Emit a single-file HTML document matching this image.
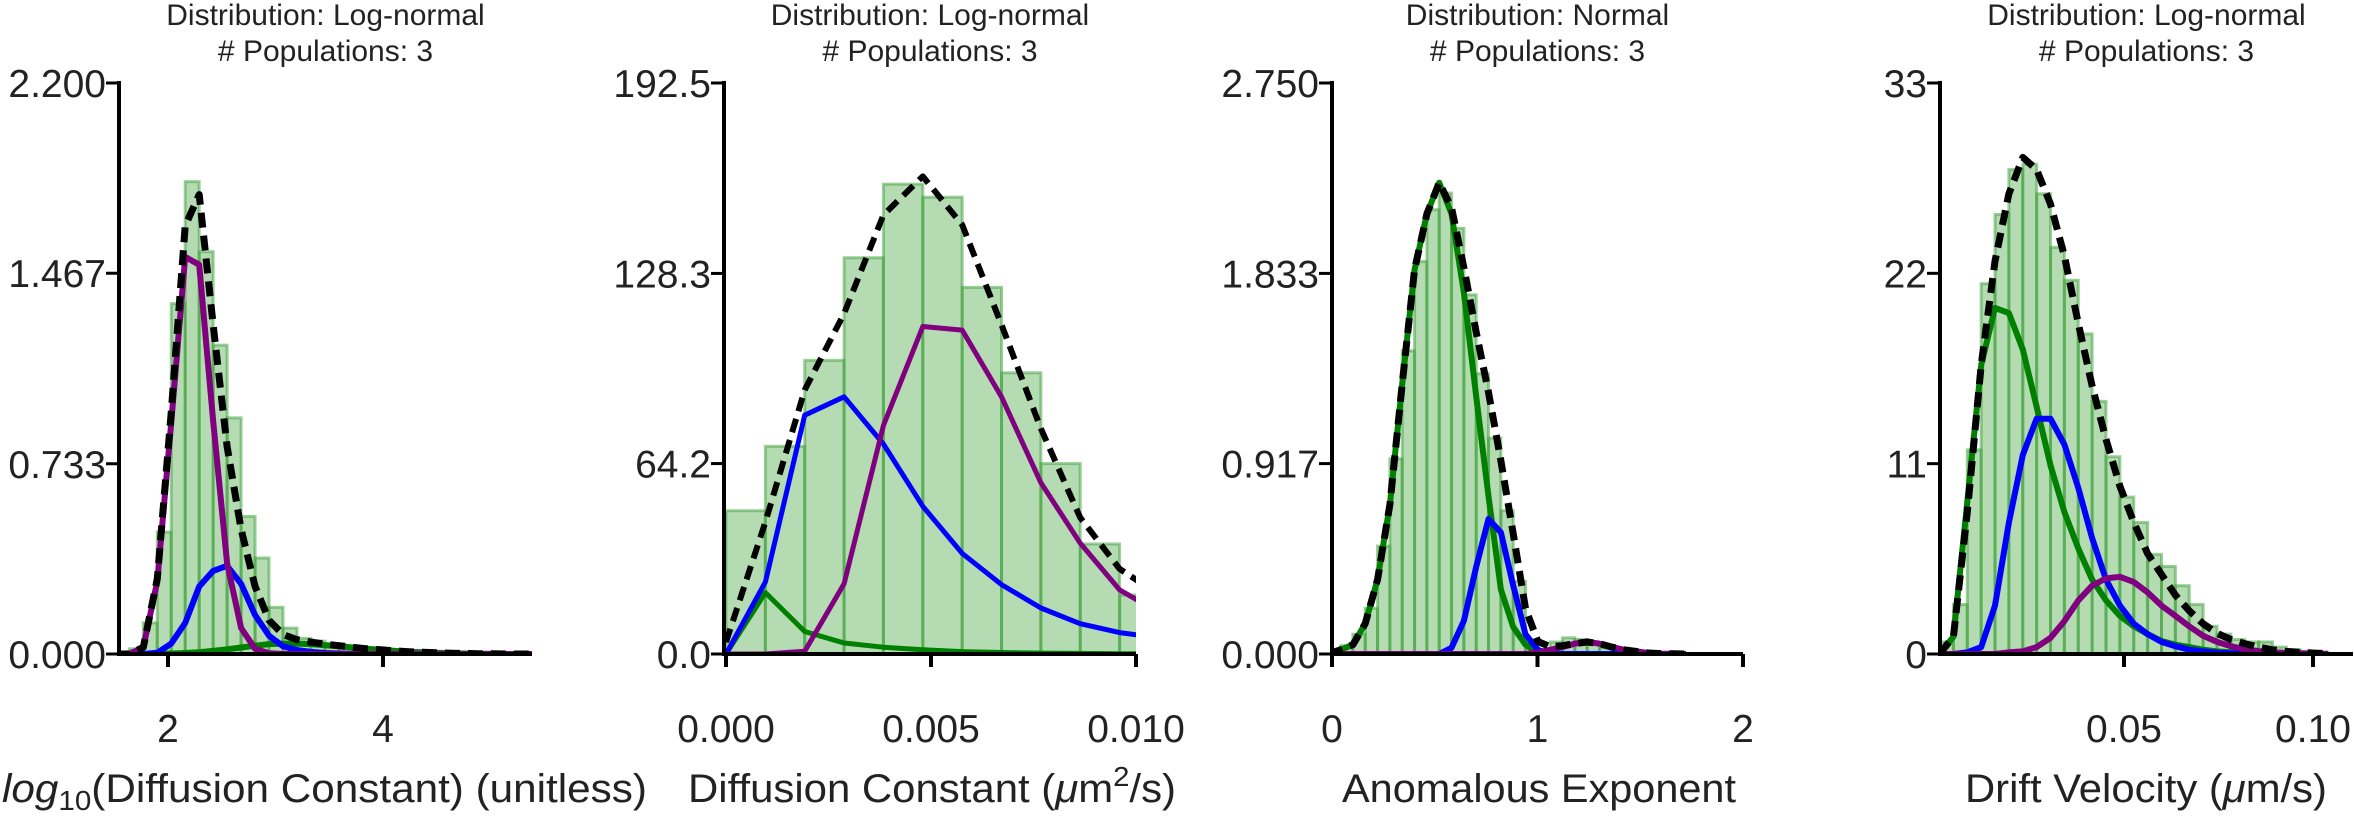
<!DOCTYPE html>
<html><head><meta charset="utf-8">
<style>
html,body{margin:0;padding:0;background:#fff;}
svg{display:block;font-family:"Liberation Sans",Arial,sans-serif;}
</style></head>
<body>
<svg id="chart" width="2354" height="818" viewBox="0 0 2354 818" xmlns="http://www.w3.org/2000/svg"></svg>
<script>
// ---------- Panel 1: log10 Diffusion Constant ----------
const p1BinStart = 1.64, p1BinWidth = 0.13;
const p1Bars = [0.02,0.12,0.47,1.35,1.82,1.55,1.19,0.91,0.53,0.37,0.18,0.10,0.06,0.05,0.04,0.03,0.025,0.02,0.015,0.012,0.01,0.008,0.006,0.005,0.004,0.003,0.002,0.002,0.001];
const p1CurveStart = 1.51, p1CurveStep = 0.13;
const p1Total  = [0,0,0.026,0.29,0.93,1.65,1.77,1.27,0.80,0.48,0.26,0.13,0.075,0.055,0.046,0.038,0.032,0.026,0.02,0.016,0.012,0.009,0.007,0.005,0.003,0.002,0.001,0.001,0,0,0];
const p1Purple = [0,0,0.026,0.28,0.89,1.53,1.50,0.90,0.35,0.10,0.02,0.003,0,0,0,0,0,0,0,0,0,0,0,0,0,0,0,0,0,0,0];
const p1Blue   = [0,0,0,0.005,0.04,0.12,0.26,0.32,0.34,0.27,0.15,0.07,0.03,0.015,0.008,0.004,0.002,0.001,0,0,0,0,0,0,0,0,0,0,0,0,0];
const p1Green  = [0,0,0,0.001,0.002,0.004,0.007,0.012,0.018,0.025,0.032,0.038,0.04,0.04,0.038,0.034,0.03,0.025,0.02,0.016,0.012,0.009,0.007,0.005,0.003,0.002,0.001,0.001,0,0,0];
const p1YTicks = ["0.000","0.733","1.467","2.200"];
const p1YTickVals = [0,0.733,1.467,2.2];
const p1XTicks = ["2","4"];
const p1XTickVals = [2,4];

// ---------- Panel 2: Diffusion Constant ----------
const p2BinStart = 0, p2BinWidth = 0.00096;
const p2Bars = [48.3,70,99,133.6,158.4,154,123.6,94.8,64.2,37.1,19.9];
const p2CurveStart = 0, p2CurveStep = 0.00096;
const p2Total  = [4,44.5,89,114.8,148,161,144.7,111,76,46,28.7,20];
const p2Blue   = [0,24.3,80.5,86.7,70.8,49.8,33.9,23.4,15.5,10.2,7.2,5.5];
const p2Purple = [0,0,0.9,23.7,77,110.4,109.2,86.7,57.7,37.4,21.6,14];
const p2Green  = [0,20.7,7.6,3.7,2.3,1.4,0.8,0.5,0.3,0.2,0.1,0.1];
const p2YTicks = ["0.0","64.2","128.3","192.5"];
const p2YTickVals = [0,64.2,128.3,192.5];
const p2XTicks = ["0.000","0.005","0.010"];
const p2XTickVals = [0,0.005,0.01];

// ---------- Panel 3: Anomalous Exponent ----------
const p3BinStart = -0.0183, p3BinWidth = 0.06;
const p3Bars = [0.02,0.04,0.095,0.22,0.52,0.94,1.46,1.89,2.14,2.22,2.05,1.73,1.35,1.04,0.69,0.35,0.058,0.02,0.058,0.078,0.07,0.05,0.03,0.02,0.012,0.008,0.005,0.003,0.002];
const p3CurveStart = -0.0183, p3CurveStep = 0.06;
const p3Total  = [0,0.02,0.045,0.146,0.36,0.72,1.3,1.85,2.12,2.27,2.15,1.86,1.55,1.26,0.93,0.58,0.22,0.06,0.035,0.04,0.05,0.058,0.05,0.033,0.02,0.012,0.005,0.002,0.001,0];
const p3Green  = [0,0.02,0.045,0.146,0.36,0.72,1.3,1.85,2.12,2.27,2.12,1.74,1.24,0.76,0.31,0.13,0.045,0.007,0,0,0,0,0,0,0,0,0,0,0,0];
const p3Blue   = [0,0,0,0,0,0,0,0,0,0,0.03,0.16,0.42,0.65,0.585,0.33,0.095,0.02,0,0,0,0,0,0,0,0,0,0,0,0];
const p3Purple = [0,0,0,0,0,0,0,0,0,0,0,0,0,0,0,0,0,0.007,0.02,0.033,0.05,0.058,0.05,0.033,0.02,0.012,0.005,0.002,0.001,0];
const p3YTicks = ["0.000","0.917","1.833","2.750"];
const p3YTickVals = [0,0.917,1.833,2.75];
const p3XTicks = ["0","1","2"];
const p3XTickVals = [0,1,2];

// ---------- Panel 4: Drift Velocity ----------
const p4BinStart = 0.0012, p4BinWidth = 0.00367;
const p4Bars = [0.7,2.86,11.8,21.4,25.4,28.0,28.3,26.6,23.5,21.6,18.5,14.6,11.4,9.07,7.6,5.76,5.06,3.95,2.86,1.6,1.15,0.84,0.7,0.7,0.4,0.25,0.15,0.1];
const p4CurveStart = 0.0012, p4CurveStep = 0.00367;
const p4Total  = [0,1.0,8.2,16.7,22.7,26.6,28.7,28,26,23,19.1,15.5,12.4,9.7,7.6,5.8,4.6,3.4,2.5,1.75,1.2,0.84,0.6,0.4,0.24,0.15,0.09,0.05,0.03];
const p4Green  = [0,1.0,8.8,16.7,20,19.7,17.6,14.3,10.9,8.2,6.1,4.3,3.1,2.2,1.6,1.15,0.75,0.54,0.4,0.25,0.15,0.1,0.06,0.04,0.02,0.01,0.01,0,0];
const p4Blue   = [0,0,0.1,0.4,2.8,7.6,11.5,13.6,13.6,12.1,9.6,6.7,4.3,2.8,1.75,1.15,0.7,0.45,0.25,0.15,0.08,0.04,0.02,0.01,0,0,0,0,0];
const p4Purple = [0,0,0,0,0,0.1,0.15,0.4,0.93,1.9,3.1,3.95,4.37,4.46,4.16,3.56,2.8,2.2,1.6,1.05,0.7,0.45,0.27,0.17,0.1,0.06,0.04,0.02,0.01];
const p4YTicks = ["0","11","22","33"];
const p4YTickVals = [0,11,22,33];
const p4XTicks = ["0.05","0.10"];
const p4XTickVals = [0.05,0.10];

const NS = "http://www.w3.org/2000/svg";
const svg = document.getElementById("chart");
const Y_TOP = 83, Y_BOT = 654;

function mk(tag, attrs, parent) {
  const e = document.createElementNS(NS, tag);
  for (const k in attrs) e.setAttribute(k, attrs[k]);
  parent.appendChild(e);
  return e;
}

function drawPanel(cfg) {
  const g = mk("g", {}, svg);
  
  
  const xs = d => cfg.x0px + (d - cfg.xd0) * cfg.pxPerUnit;
  const ys = v => Y_BOT - (v / cfg.ymax) * (Y_BOT - Y_TOP);
  const clipId = "clip-" + cfg.name;
  const defs = mk("defs", {}, g);
  const cp = mk("clipPath", {id: clipId}, defs);
  mk("rect", {x: cfg.axL, y: 0, width: cfg.axR - cfg.axL, height: Y_BOT + 2}, cp);

  const bg = mk("g", {"clip-path": "url(#" + clipId + ")"}, g);
  
  
  cfg.bars.forEach((v, i) => {
    const a = xs(cfg.binStart + i * cfg.binWidth), b = xs(cfg.binStart + (i + 1) * cfg.binWidth);
    const r = mk("rect", {x: a, y: ys(v), width: b - a, height: Y_BOT - ys(v),
      fill: "rgba(76,170,72,0.42)", stroke: "rgba(60,160,56,0.5)", "stroke-width": 3}, bg);
    
    
  });

  const cg = mk("g", {"clip-path": "url(#" + clipId + ")"}, g);
  cfg.curves.forEach(c => {
    const pts = c.vals.map((v, i) => xs(cfg.curveStart + i * cfg.curveStep).toFixed(1) + "," + ys(v).toFixed(1)).join(" ");
    const attrs = {points: pts, fill: "none", stroke: c.color, "stroke-width": c.w, "stroke-linejoin": "round"};
    if (c.dash) attrs["stroke-dasharray"] = c.dash;
    const pl = mk("polyline", attrs, cg);
    
    
  });

  const ax = mk("g", {stroke: "#000", "stroke-width": 4, fill: "none"}, g);
  const yAxis = mk("line", {x1: cfg.axL, y1: Y_TOP - 2, x2: cfg.axL, y2: Y_BOT + 2}, ax);
  
  
  const xAxis = mk("line", {x1: cfg.axL - 2, y1: Y_BOT, x2: cfg.axR, y2: Y_BOT}, ax);
  
  

  cfg.yTickVals.forEach((v, i) => {
    const y = ys(v);
    mk("line", {x1: cfg.axL - 13, y1: y, x2: cfg.axL, y2: y, stroke: "#000", "stroke-width": 3}, g);
    const t = mk("text", {x: cfg.axL - 13, y: y + 14, "text-anchor": "end", "font-size": 39, fill: "#222"}, g);
    t.textContent = cfg.yTicks[i];
    
    
  });
  cfg.xTickVals.forEach((v, i) => {
    const x = xs(v);
    mk("line", {x1: x, y1: Y_BOT, x2: x, y2: Y_BOT + 13, stroke: "#000", "stroke-width": 4}, g);
    const t = mk("text", {x: x, y: 742, "text-anchor": "middle", "font-size": 39, fill: "#222"}, g);
    t.textContent = cfg.xTicks[i];
    
    
  });

  const cx = (cfg.axL + cfg.axR) / 2;
  const t1 = mk("text", {x: cx, y: 25, "text-anchor": "middle", "font-size": 30, fill: "#222"}, g);
  t1.textContent = cfg.title;
  
  
  const t2 = mk("text", {x: cx, y: 61, "text-anchor": "middle", "font-size": 30, fill: "#222"}, g);
  t2.textContent = "# Populations: 3";
  
  

  const xl = mk("text", {x: cfg.xlX, y: 802, "font-size": 40, fill: "#222", textLength: cfg.xlW, lengthAdjust: "spacingAndGlyphs"}, g);
  xl.innerHTML = cfg.xlabel;
  
  
}

const C = (vals, color, name, w, dash) => ({vals, color, name, w, dash});

drawPanel({name: "panel-log-diffusion", x0px: 168, xd0: 2, pxPerUnit: 107.5, axL: 119, axR: 532, ymax: 2.2,
  binStart: p1BinStart, binWidth: p1BinWidth, bars: p1Bars, curveStart: p1CurveStart, curveStep: p1CurveStep,
  curves: [C(p1Green,"#008000","green-population-curve",6), C(p1Blue,"#0000ff","blue-population-curve",6),
           C(p1Purple,"#800080","purple-population-curve",6), C(p1Total,"#000","total-fit-curve",7,"15 8")],
  yTicks: p1YTicks, yTickVals: p1YTickVals, xTicks: p1XTicks, xTickVals: p1XTickVals,
  title: "Distribution: Log-normal",
  xlabel: '<tspan font-style="italic">log</tspan><tspan font-size="28" dy="8">10</tspan><tspan dy="-8">(Diffusion Constant) (unitless)</tspan>',
  xlX: 2, xlW: 645});

drawPanel({name: "panel-diffusion", x0px: 726, xd0: 0, pxPerUnit: 41000, axL: 724, axR: 1136, ymax: 192.5,
  binStart: p2BinStart, binWidth: p2BinWidth, bars: p2Bars, curveStart: p2CurveStart, curveStep: p2CurveStep,
  curves: [C(p2Green,"#008000","green-population-curve",5), C(p2Blue,"#0000ff","blue-population-curve",5),
           C(p2Purple,"#800080","purple-population-curve",5), C(p2Total,"#000","total-fit-curve",6,"14 8")],
  yTicks: p2YTicks, yTickVals: p2YTickVals, xTicks: p2XTicks, xTickVals: p2XTickVals,
  title: "Distribution: Log-normal",
  xlabel: 'Diffusion Constant (<tspan font-style="italic">μ</tspan>m<tspan font-size="28" dy="-16">2</tspan><tspan dy="16">/s)</tspan>',
  xlX: 688, xlW: 488});

drawPanel({name: "panel-anomalous-exponent", x0px: 1332, xd0: 0, pxPerUnit: 205.5, axL: 1332, axR: 1743, ymax: 2.75,
  binStart: p3BinStart, binWidth: p3BinWidth, bars: p3Bars, curveStart: p3CurveStart, curveStep: p3CurveStep,
  curves: [C(p3Green,"#008000","green-population-curve",6), C(p3Blue,"#0000ff","blue-population-curve",6),
           C(p3Purple,"#800080","purple-population-curve",6), C(p3Total,"#000","total-fit-curve",7,"15 8")],
  yTicks: p3YTicks, yTickVals: p3YTickVals, xTicks: p3XTicks, xTickVals: p3XTickVals,
  title: "Distribution: Normal",
  xlabel: 'Anomalous Exponent',
  xlX: 1342, xlW: 394});

drawPanel({name: "panel-drift-velocity", x0px: 1935, xd0: 0, pxPerUnit: 3780, axL: 1940, axR: 2353, ymax: 33,
  binStart: p4BinStart, binWidth: p4BinWidth, bars: p4Bars, curveStart: p4CurveStart, curveStep: p4CurveStep,
  curves: [C(p4Green,"#008000","green-population-curve",6), C(p4Blue,"#0000ff","blue-population-curve",6),
           C(p4Purple,"#800080","purple-population-curve",6), C(p4Total,"#000","total-fit-curve",7,"15 8")],
  yTicks: p4YTicks, yTickVals: p4YTickVals, xTicks: p4XTicks, xTickVals: p4XTickVals,
  title: "Distribution: Log-normal",
  xlabel: 'Drift Velocity (<tspan font-style="italic">μ</tspan>m/s)',
  xlX: 1965, xlW: 362});
</script>
</body></html>
